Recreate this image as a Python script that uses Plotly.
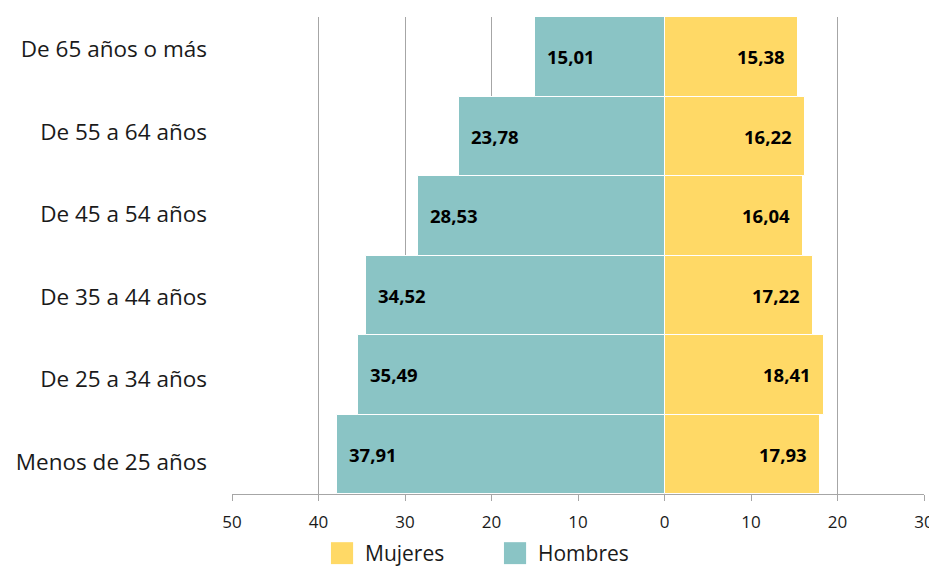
import plotly.graph_objects as go

categorias = ["Menos de 25 años", "De 25 a 34 años", "De 35 a 44 años",
              "De 45 a 54 años", "De 55 a 64 años", "De 65 años o más"]
hombres = [37.91, 35.49, 34.52, 28.53, 23.78, 15.01]
mujeres = [17.93, 18.41, 17.22, 16.04, 16.22, 15.38]
tick_vals = [-50, -40, -30, -20, -10, 0, 10, 20, 30]
tick_text = ["50", "40", "30", "20", "10", "0", "10", "20", "30"]
series_names = ["Mujeres", "Hombres"]

c_h = "#8AC4C5"
c_m = "#FFD966"
txt = "#1A1A1A"
FONT = "Open Sans"

def fmt(v):
    return f"{v:.2f}".replace(".", ",")

fig = go.Figure()
fig.add_trace(go.Bar(
    y=list(range(len(categorias))), x=mujeres, orientation="h", name=series_names[0],
    marker=dict(color=c_m, line=dict(color="white", width=1)),
    hoverinfo="skip", showlegend=False))
fig.add_trace(go.Bar(
    y=list(range(len(categorias))), x=[-v for v in hombres], orientation="h", name=series_names[1],
    marker=dict(color=c_h, line=dict(color="white", width=1)),
    hoverinfo="skip", showlegend=False))
# invisible trace carrying the category label axis
fig.add_trace(go.Scatter(
    y=list(range(len(categorias))), x=[0] * len(categorias), yaxis="y2",
    mode="markers", marker=dict(opacity=0), hoverinfo="skip", showlegend=False))

annotations = []
for i, (h, m) in enumerate(zip(hombres, mujeres)):
    annotations.append(dict(x=-h, y=i, xref="x", yref="y", text=f"<b>{fmt(h)}</b>",
                            showarrow=False, xanchor="left", xshift=10,
                            font=dict(size=18.5, color="black", family=FONT)))
    annotations.append(dict(x=m, y=i, xref="x", yref="y", text=f"<b>{fmt(m)}</b>",
                            showarrow=False, xanchor="right", xshift=-11,
                            font=dict(size=18.5, color="black", family=FONT)))

# legend drawn below the plot
shapes = []
leg = [(series_names[0], c_m, 0.143, 0.189), (series_names[1], c_h, 0.393, 0.439)]
for name, col, sx, tx in leg:
    shapes.append(dict(type="rect", xref="paper", yref="paper",
                       x0=sx, x1=sx + 0.032, y0=-0.101, y1=-0.147,
                       fillcolor=col, line=dict(width=0)))
    annotations.append(dict(x=tx, y=-0.123, xref="paper", yref="paper", text=name,
                            showarrow=False, xanchor="left", yanchor="middle",
                            font=dict(size=21, color=txt, family=FONT)))

# the page body adds an 8px offset, so the figure is sized/margined to compensate
fig.update_layout(
    width=929, height=558,
    margin=dict(l=224, r=13, t=9, b=72),
    barmode="relative", bargap=0,
    plot_bgcolor="white", paper_bgcolor="white",
    font=dict(family=FONT, color=txt),
    showlegend=False,
    annotations=annotations,
    shapes=shapes,
    xaxis=dict(range=[-50, 30], tickvals=tick_vals, ticktext=tick_text,
               showgrid=True, gridcolor="#A6A6A6", gridwidth=1,
               zeroline=False, showline=True, linecolor="#A6A6A6", linewidth=1,
               ticks="outside", ticklen=6, tickcolor="#A6A6A6",
               tickfont=dict(size=17, color=txt), ticklabelstandoff=7,
               automargin=False, fixedrange=True),
    yaxis=dict(range=[-0.5, 5.5], showgrid=False, zeroline=False,
               showticklabels=False, automargin=False, fixedrange=True),
    yaxis2=dict(range=[-0.39, 5.39], overlaying="y", side="left",
                tickmode="array", tickvals=list(range(len(categorias))), ticktext=categorias,
                showgrid=False, zeroline=False, showline=False,
                tickfont=dict(size=22.5, color=txt), ticklabelstandoff=24,
                automargin=False, fixedrange=True),
)

fig.write_html("out.html")
